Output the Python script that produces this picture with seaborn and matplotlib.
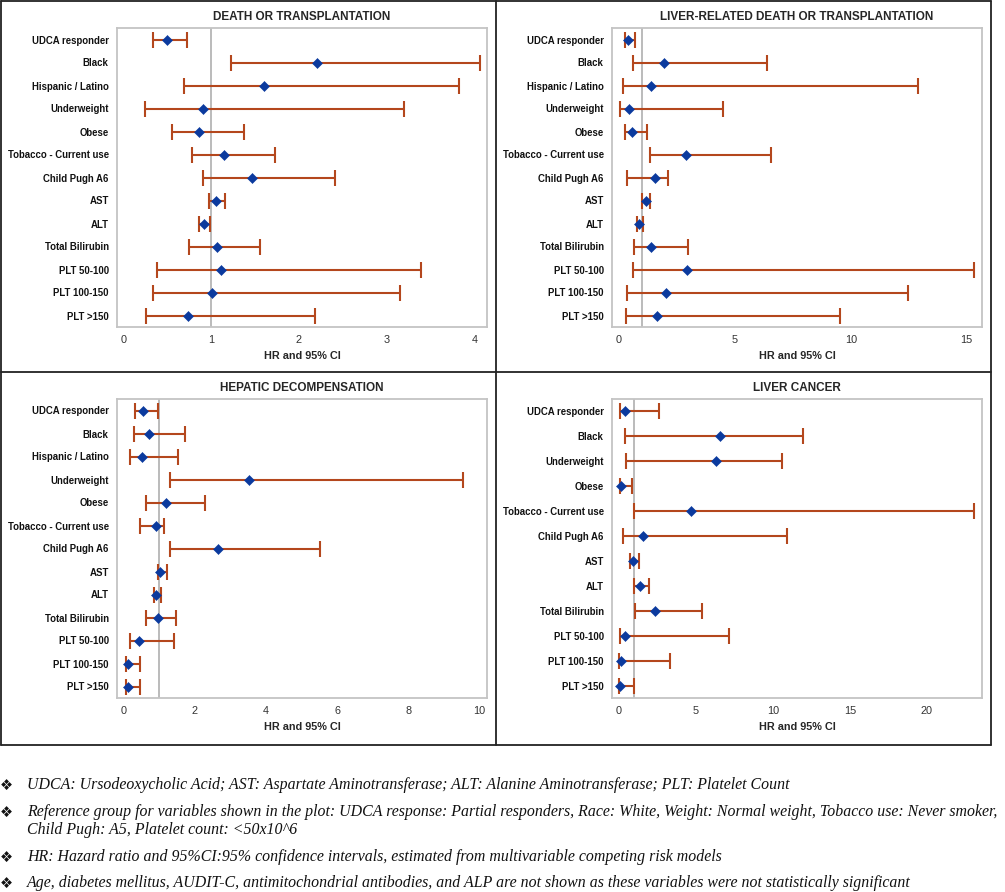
"""
Forest plots of hazard ratios for four PBC outcomes (2x2 panel + footnotes).
"""

import numpy as np
import matplotlib
matplotlib.use("Agg")
import matplotlib.pyplot as plt
import seaborn as sns
from matplotlib.lines import Line2D

# ──────────────────────────────────────────────
# Data (HR, lower CI, upper CI)
# ──────────────────────────────────────────────
VARS_13 = ["UDCA responder", "Black", "Hispanic / Latino", "Underweight", "Obese",
           "Tobacco - Current use", "Child Pugh A6", "AST", "ALT", "Total Bilirubin",
           "PLT 50-100", "PLT 100-150", "PLT >150"]
VARS_12 = ["UDCA responder", "Black", "Underweight", "Obese",
           "Tobacco - Current use", "Child Pugh A6", "AST", "ALT", "Total Bilirubin",
           "PLT 50-100", "PLT 100-150", "PLT >150"]

death_hr = [0.49, 2.21, 1.60, 0.90, 0.86, 1.15, 1.46, 1.05, 0.92, 1.07, 1.11, 1.01, 0.73]
death_lo = [0.34, 1.22, 0.69, 0.24, 0.55, 0.78, 0.90, 0.97, 0.86, 0.75, 0.38, 0.34, 0.26]
death_hi = [0.72, 4.06, 3.82, 3.20, 1.37, 1.73, 2.41, 1.16, 0.99, 1.56, 3.39, 3.15, 2.18]

liver_hr = [0.39, 1.93, 1.38, 0.43, 0.55, 2.90, 1.57, 1.15, 0.86, 1.38, 2.95, 2.03, 1.64]
liver_lo = [0.24, 0.60, 0.17, 0.06, 0.26, 1.32, 0.33, 0.99, 0.78, 0.66, 0.60, 0.36, 0.29]
liver_hi = [0.69, 6.39, 12.90, 4.50, 1.19, 6.57, 2.13, 1.34, 1.03, 2.96, 15.32, 12.46, 9.55]

decomp_hr = [0.55, 0.70, 0.51, 3.51, 1.18, 0.90, 2.66, 1.03, 0.92, 0.96, 0.44, 0.12, 0.12]
decomp_lo = [0.32, 0.30, 0.18, 1.31, 0.63, 0.45, 1.31, 0.95, 0.84, 0.63, 0.17, 0.06, 0.06]
decomp_hi = [0.95, 1.72, 1.54, 9.55, 2.29, 1.13, 5.53, 1.23, 1.06, 1.47, 1.40, 0.45, 0.47]

cancer_hr = [0.41, 6.54, 6.30, 0.15, 4.68, 1.56, 0.89, 1.36, 2.36, 0.41, 0.15, 0.04]
cancer_lo = [0.09, 0.39, 0.43, 0.06, 1.00, 0.26, 0.74, 0.95, 1.04, 0.04, 0.02, 0.02]
cancer_hi = [2.60, 11.93, 10.61, 0.84, 23.07, 10.93, 1.28, 1.97, 5.41, 7.16, 3.31, 0.95]

TITLES = ["DEATH OR TRANSPLANTATION", "LIVER-RELATED DEATH OR TRANSPLANTATION",
          "HEPATIC DECOMPENSATION", "LIVER CANCER"]

FOOTNOTES = [
    ["UDCA: Ursodeoxycholic Acid; AST: Aspartate Aminotransferase; ALT: Alanine Aminotransferase; PLT: Platelet Count"],
    ["Reference group for variables shown in the plot: UDCA response: Partial responders, Race: White, Weight: Normal weight, Tobacco use: Never smoker,",
     "Child Pugh: A5, Platelet count: <50x10^6"],
    ["HR: Hazard ratio and 95%CI:95% confidence intervals, estimated from multivariable competing risk models"],
    ["Age, diabetes mellitus, AUDIT-C, antimitochondrial antibodies, and ALP are not shown as these variables were not statistically significant"],
]

BAR_COLOR = "#B4471D"
DOT_COLOR = "#0B3A9E"
FRAME_COLOR = "#C4C4C4"

W, H = 1005, 892


def px_axes(fig, x0, y0, x1, y1):
    """Add axes from pixel box (top-left origin)."""
    return fig.add_axes([x0 / W, (H - y1) / H, (x1 - x0) / W, (y1 - y0) / H])


def forest(ax, labels, hr, lo, hi, title, xlim, xticks):
    hr, lo, hi = np.array(hr), np.array(lo), np.array(hi)
    ax.axvline(1, color="#A8A8A8", lw=1.1, zorder=1)
    ax.errorbar(hr, labels, xerr=[hr - lo, hi - hr], fmt="none",
                ecolor=BAR_COLOR, elinewidth=1.5, capsize=5.8, capthick=1.5, zorder=2)
    sns.scatterplot(x=hr, y=labels, marker="D", s=26, color=DOT_COLOR,
                    edgecolor=DOT_COLOR, linewidth=0.4, ax=ax, zorder=3)
    ax.set_ylim(len(labels) - 0.5, -0.5)
    ax.set_xlim(*xlim)
    ax.set_xticks(xticks)
    ax.set_xticklabels([str(t) for t in xticks])
    ax.set_title(title, fontsize=8.5, fontweight="bold", pad=5.5)
    ax.set_xlabel("HR and 95% CI", fontsize=7.8, fontweight="bold", labelpad=4)
    ax.set_ylabel("")
    for sp in ax.spines.values():
        sp.set_color(FRAME_COLOR)
        sp.set_linewidth(1.3)
        sp.set_visible(True)
    ax.tick_params(axis="y", length=3, color="#A0A0A0", labelsize=6.9, pad=3,
                   labelcolor="#111111")
    ax.tick_params(axis="x", length=3, color="#A0A0A0", labelsize=7.8, pad=3,
                   labelcolor="#333333")
    for t in ax.get_yticklabels():
        t.set_fontweight("bold")
    ax.grid(False)
    ax.set_facecolor("white")


def main():
    sns.set_theme(style="white")
    plt.rcParams["font.family"] = ["Liberation Sans", "DejaVu Sans"]

    fig = plt.figure(figsize=(W / 100, H / 100), dpi=100)

    ax1 = px_axes(fig, 117, 28, 487, 327)
    forest(ax1, VARS_13, death_hr, death_lo, death_hi, TITLES[0],
           (-0.076, 4.145), [0, 1, 2, 3, 4])

    ax2 = px_axes(fig, 612, 28, 982, 327)
    forest(ax2, VARS_13, liver_hr, liver_lo, liver_hi, TITLES[1],
           (-0.30, 15.66), [0, 5, 10, 15])

    ax3 = px_axes(fig, 117, 399, 487, 698)
    forest(ax3, VARS_13, decomp_hr, decomp_lo, decomp_hi, TITLES[2],
           (-0.19, 10.22), [0, 2, 4, 6, 8, 10])

    ax4 = px_axes(fig, 612, 399, 982, 698)
    forest(ax4, VARS_12, cancer_hr, cancer_lo, cancer_hi, TITLES[3],
           (-0.45, 23.59), [0, 5, 10, 15, 20])

    # outer black box with dividers
    def fx(x):
        return x / W

    def fy(y):
        return (H - y) / H

    box = [((1, 1), (991, 1)), ((1, 745), (991, 745)), ((1, 1), (1, 745)),
           ((991, 1), (991, 745)), ((496, 1), (496, 745)), ((1, 372), (991, 372))]
    for (xa, ya), (xb, yb) in box:
        fig.add_artist(Line2D([fx(xa), fx(xb)], [fy(ya), fy(yb)],
                              color="#222222", lw=1.3, transform=fig.transFigure))

    # footnotes
    note_y = [785, 812, 857, 883]
    for y, lines in zip(note_y, FOOTNOTES):
        fig.text(fx(6.5), fy(y), "\u2756", fontsize=10.5, family="DejaVu Sans",
                 ha="center", va="center", color="#111111")
        for i, line in enumerate(lines):
            fig.text(fx(27), fy(y + 18 * i), line, fontsize=11.4,
                     family="Liberation Serif", style="italic",
                     ha="left", va="center", color="#111111")

    fig.savefig("out.png", dpi=100)
    plt.close(fig)


if __name__ == "__main__":
    main()
